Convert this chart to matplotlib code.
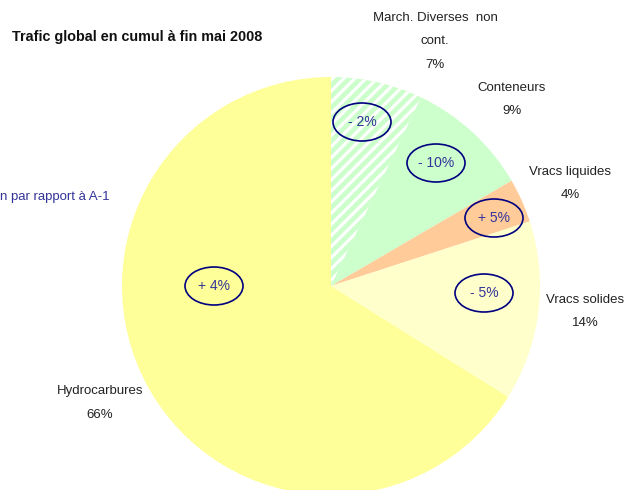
import matplotlib
matplotlib.use("Agg")
import matplotlib.pyplot as plt
from matplotlib.patches import Ellipse

plt.rcParams['font.family'] = ['Liberation Sans Narrow', 'Liberation Sans', 'DejaVu Sans']
plt.rcParams['hatch.linewidth'] = 2.2

# Data
categories = ["March. Diverses  non\ncont.", "Conteneurs", "Vracs liquides", "Vracs solides", "Hydrocarbures"]
shares = [7.1, 9.5, 3.4, 13.9, 66.1]
share_labels = ["7%", "9%", "4%", "14%", "66%"]
evolution = ["- 2%", "- 10%", "+ 5%", "- 5%", "+ 4%"]

colors = ["#CCFFCC", "#CCFFCC", "#FFCC99", "#FFFFCC", "#FFFF99"]

W, H = 626, 490
fig = plt.figure(figsize=(W / 100, H / 100), dpi=100)
ax = fig.add_axes([0, 0, 1, 1])

cx, cy, r = 331, H - 286, 209
wedges, _ = ax.pie(shares, colors=colors, startangle=90, counterclock=False,
                   center=(cx, cy), radius=r,
                   wedgeprops=dict(linewidth=0))
wedges[0].set_hatch("///")
wedges[0].set_edgecolor("white")

ax.set_xlim(0, W)
ax.set_ylim(0, H)
ax.axis("off")

# evolution ellipses (pixel positions)
ell_pos = [(362, 122), (436, 163), (494, 218), (484, 293), (214, 286)]
for (ex, ey), txt in zip(ell_pos, evolution):
    ax.add_patch(Ellipse((ex, H - ey), 58, 38, fill=False, edgecolor="#000080", linewidth=1.2))
    ax.text(ex, H - ey, txt, ha="center", va="center", color="#333399", fontsize=10)

# category labels (centre of first line)
lab_pos = [(435, 18), (512, 88), (570, 172), (585, 300), (100, 391)]
for (lx, ly), name, pct in zip(lab_pos, categories, share_labels):
    lines = (name + "\n" + pct).split("\n")
    for i, line in enumerate(lines):
        ax.text(lx, H - (ly + 23.5 * i), line, ha="center", va="center",
                fontsize=9.5, color="#222222")

ax.text(12, H - 37, "Trafic global en cumul à fin mai 2008", ha="left", va="center",
        fontsize=10.4, fontweight="bold", color="#111111")
ax.text(0, H - 197, "n par rapport à A-1", ha="left", va="center",
        fontsize=9.5, color="#333399")

fig.savefig("out.png", dpi=100)
